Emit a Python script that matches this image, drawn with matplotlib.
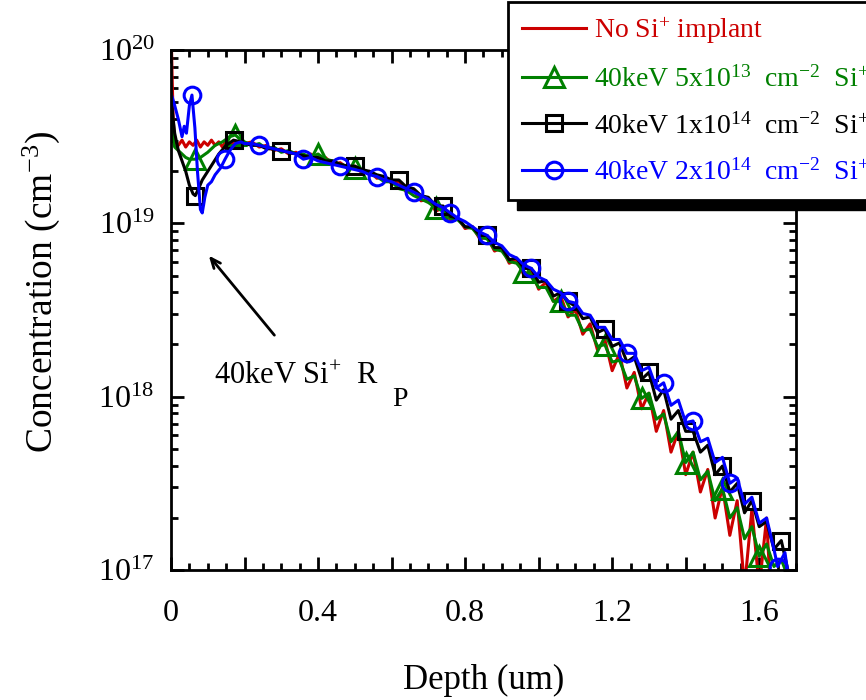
import numpy as np
import matplotlib
matplotlib.use('Agg')
import matplotlib.pyplot as plt
from matplotlib.patches import Rectangle
from matplotlib.ticker import MultipleLocator, LogLocator, NullFormatter

plt.rcParams['font.family'] = 'Liberation Serif'
plt.rcParams['mathtext.fontset'] = 'custom'
plt.rcParams['mathtext.rm'] = 'Liberation Serif'
plt.rcParams['mathtext.it'] = 'Liberation Serif:italic'
plt.rcParams['mathtext.default'] = 'regular'

# depth grid of the tail (um), shared by all profiles
tail_x = [0.20, 0.22, 0.24, 0.26, 0.28, 0.30, 0.32, 0.34, 0.36, 0.38,
          0.40, 0.42, 0.44, 0.46, 0.48, 0.50, 0.52, 0.54, 0.56, 0.58,
          0.60, 0.62, 0.64, 0.66, 0.68, 0.70, 0.72, 0.74, 0.76, 0.78,
          0.80, 0.82, 0.84, 0.86, 0.88, 0.90, 0.92, 0.94, 0.96, 0.98,
          1.00, 1.02, 1.04, 1.06, 1.08, 1.10, 1.12, 1.14, 1.16, 1.18,
          1.20, 1.22, 1.24, 1.26, 1.28, 1.30, 1.32, 1.34, 1.36, 1.38,
          1.40, 1.42, 1.44, 1.46, 1.48, 1.50, 1.52, 1.54, 1.56, 1.58,
          1.60, 1.62, 1.64, 1.66, 1.68]

# log10 of concentration (cm^-3)
# no Si+ implant
red_x = [0.0, 0.003, 0.006, 0.01, 0.02, 0.03, 0.04, 0.05, 0.06, 0.07, 0.08,
         0.09, 0.10, 0.11, 0.12, 0.13, 0.14, 0.15, 0.16, 0.17, 0.18, 0.19] \
    + tail_x[:-3] + [1.63]
red_log = [20.15, 19.85, 19.60, 19.47, 19.45, 19.48, 19.44, 19.47, 19.45,
           19.48, 19.44, 19.47, 19.45, 19.48, 19.45, 19.47, 19.44, 19.48,
           19.45, 19.47, 19.44, 19.47,
           19.46, 19.47, 19.44, 19.45, 19.42, 19.43, 19.40, 19.41, 19.38, 19.40,
           19.37, 19.38, 19.34, 19.35, 19.32, 19.33, 19.29, 19.30, 19.26, 19.27,
           19.23, 19.24, 19.18, 19.19, 19.13, 19.14, 19.07, 19.09, 19.02, 19.03,
           18.97, 18.98, 18.91, 18.92, 18.84, 18.86, 18.77, 18.79, 18.70, 18.73,
           18.62, 18.66, 18.55, 18.58, 18.46, 18.50, 18.36, 18.42, 18.27, 18.33,
           18.15, 18.25, 18.05, 18.14, 17.93, 18.02, 17.80, 17.92, 17.68, 17.80,
           17.55, 17.68, 17.45, 17.58, 17.30, 17.48, 17.20, 17.40, 16.90, 17.35,
           16.90, 17.30, 16.90]

# 40keV 5x10^13
green_x = [0.0, 0.005, 0.01, 0.02, 0.03, 0.04, 0.05, 0.06, 0.065, 0.08, 0.10,
           0.12, 0.14, 0.16, 0.175, 0.19] + tail_x
green_log = [19.70, 19.50, 19.44, 19.42, 19.40, 19.38, 19.37, 19.37, 19.37,
             19.38, 19.41, 19.45, 19.47, 19.50, 19.51, 19.48,
             19.47, 19.45, 19.46, 19.43, 19.44, 19.41, 19.42, 19.40, 19.40, 19.38,
             19.40, 19.37, 19.36, 19.34, 19.33, 19.32, 19.30, 19.29, 19.27, 19.24,
             19.24, 19.20, 19.19, 19.16, 19.14, 19.12, 19.09, 19.07, 19.03, 19.02,
             18.98, 18.97, 18.92, 18.91, 18.85, 18.84, 18.78, 18.77, 18.72, 18.70,
             18.63, 18.63, 18.55, 18.55, 18.47, 18.47, 18.38, 18.39, 18.29, 18.30,
             18.20, 18.21, 18.10, 18.12, 17.99, 18.02, 17.87, 17.90, 17.74, 17.80,
             17.62, 17.68, 17.52, 17.57, 17.40, 17.47, 17.30, 17.36, 17.18, 17.25,
             17.08, 17.15, 17.02, 17.06, 16.95]
green_marks = [0.065, 0.175, 0.40, 0.50, 0.72, 0.96, 1.06, 1.18, 1.28, 1.40,
               1.50, 1.60]

# 40keV 1x10^14
black_x = [0.0, 0.005, 0.01, 0.02, 0.03, 0.04, 0.05, 0.06, 0.066, 0.075,
           0.085, 0.10, 0.115, 0.13, 0.15, 0.17, 0.19] + tail_x
black_log = [19.75, 19.62, 19.52, 19.42, 19.36, 19.30, 19.22, 19.17, 19.16,
             19.20, 19.25, 19.30, 19.35, 19.40, 19.45, 19.48, 19.47,
             19.46, 19.45, 19.45, 19.43, 19.43, 19.42, 19.41, 19.40, 19.39, 19.38,
             19.38, 19.36, 19.36, 19.34, 19.33, 19.33, 19.31, 19.30, 19.28, 19.27,
             19.25, 19.25, 19.21, 19.20, 19.16, 19.15, 19.10, 19.10, 19.04, 19.03,
             18.98, 18.98, 18.93, 18.93, 18.86, 18.86, 18.79, 18.80, 18.74, 18.74,
             18.66, 18.67, 18.58, 18.60, 18.55, 18.52, 18.45, 18.46, 18.37, 18.39,
             18.29, 18.31, 18.20, 18.23, 18.10, 18.14, 17.98, 18.04, 17.87, 17.92,
             17.80, 17.80, 17.68, 17.72, 17.55, 17.60, 17.45, 17.50, 17.33, 17.40,
             17.25, 17.28, 17.12, 17.17, 16.98]
black_marks = [0.066, 0.17, 0.30, 0.50, 0.62, 0.74, 0.86, 0.98, 1.08, 1.18,
               1.30, 1.40, 1.50, 1.58, 1.66]

# 40keV 2x10^14
blue_x = [0.0, 0.01, 0.02, 0.03, 0.036, 0.042, 0.05, 0.057, 0.065, 0.072,
          0.08, 0.085, 0.092, 0.10, 0.11, 0.12, 0.135, 0.147, 0.16, 0.175,
          0.19] + tail_x[:-2] + [1.65, 1.67, 1.68]
blue_log = [19.75, 19.68, 19.60, 19.50, 19.56, 19.52, 19.68, 19.74, 19.55,
            19.30, 19.08, 19.06, 19.15, 19.22, 19.24, 19.28, 19.32, 19.37,
            19.42, 19.46, 19.47,
            19.46, 19.46, 19.45, 19.44, 19.43, 19.42, 19.41, 19.40, 19.37, 19.38,
            19.36, 19.35, 19.34, 19.33, 19.32, 19.31, 19.30, 19.28, 19.27, 19.25,
            19.24, 19.22, 19.20, 19.18, 19.16, 19.14, 19.11, 19.09, 19.06, 19.03,
            19.01, 18.98, 18.95, 18.93, 18.89, 18.87, 18.82, 18.80, 18.76, 18.74,
            18.69, 18.67, 18.62, 18.60, 18.55, 18.54, 18.48, 18.47, 18.40, 18.40,
            18.33, 18.33, 18.25, 18.25, 18.15, 18.17, 18.05, 18.08, 17.95, 17.98,
            17.85, 17.86, 17.74, 17.76, 17.62, 17.65, 17.50, 17.53, 17.38, 17.42,
            17.27, 17.30, 17.12, 17.02, 17.10, 16.95]
blue_marks = [0.057, 0.147, 0.24, 0.36, 0.46, 0.56, 0.66, 0.76, 0.86, 0.98,
              1.08, 1.24, 1.34, 1.42, 1.52, 1.65]

labels = ['No Si$^{+}$ implant',
          '40keV 5x10$^{13}$  cm$^{-2}$  Si$^{+}$',
          '40keV 1x10$^{14}$  cm$^{-2}$  Si$^{+}$',
          '40keV 2x10$^{14}$  cm$^{-2}$  Si$^{+}$']


def mark_idx(xs, marks):
    xs = np.asarray(xs)
    return [int(np.argmin(np.abs(xs - m))) for m in marks]


def main():
    fig = plt.figure(figsize=(8.66, 7.0), dpi=100)
    ax = fig.add_axes([171 / 866, 130 / 700, 625 / 866, 520 / 700])

    lw = 2.2
    h_red, = ax.plot(red_x, 10 ** np.array(red_log), color='#cc0000', lw=lw)
    h_green, = ax.plot(green_x, 10 ** np.array(green_log), color='#008000',
                       lw=lw, marker='^', ms=14, mfc='none', mew=2.2,
                       markevery=mark_idx(green_x, green_marks))
    h_black, = ax.plot(black_x, 10 ** np.array(black_log), color='black',
                       lw=lw, marker='s', ms=11.5, mfc='none', mew=2.2,
                       markevery=mark_idx(black_x, black_marks))
    h_blue, = ax.plot(blue_x, 10 ** np.array(blue_log), color='#0000ff',
                      lw=lw, marker='o', ms=12, mfc='none', mew=2.2,
                      markevery=mark_idx(blue_x, blue_marks))

    ax.set_yscale('log')
    ax.set_xlim(0, 1.70)
    ax.set_ylim(1e17, 1e20)
    ax.xaxis.set_minor_locator(MultipleLocator(0.05))
    ax.set_xticks([0, 0.2, 0.4, 0.6, 0.8, 1.0, 1.2, 1.4, 1.6])
    ax.set_xticklabels(['0', '', '0.4', '', '0.8', '', '1.2', '', '1.6'])
    ax.yaxis.set_minor_locator(LogLocator(base=10, subs=np.arange(2, 10)))
    ax.yaxis.set_minor_formatter(NullFormatter())

    for s in ax.spines.values():
        s.set_linewidth(2.0)
    ax.tick_params(which='both', direction='in', top=True, right=True,
                   width=2.0)
    ax.tick_params(which='major', length=9.5)
    ax.tick_params(which='minor', length=5)
    ax.tick_params(axis='x', labelsize=23, pad=21)
    ax.tick_params(axis='y', labelsize=23, pad=12)

    ax.set_xlabel('Depth (um)', fontsize=25, labelpad=26)
    ax.set_ylabel('Concentration (cm$^{-3}$)', fontsize=27)
    ax.yaxis.set_label_coords(-0.175, 0.535)

    ax.annotate('', xy=(0.098, 6.7e18), xytext=(0.286, 2.2e18),
                arrowprops=dict(arrowstyle='->,head_length=0.7,head_width=0.3',
                                lw=2, color='black'))
    ax.text(0.117, 1.3e18, '40keV Si$^{+}$  R', fontsize=22,
            va='center', ha='left')
    ax.text(0.601, 9.6e17, 'P', fontsize=20, va='center', ha='left')

    leg = fig.legend([h_red, h_green, h_black, h_blue], labels,
                     loc='upper left', bbox_to_anchor=(508 / 866, 1 - 2 / 700),
                     fontsize=20, frameon=True, fancybox=False,
                     edgecolor='black', framealpha=1, borderpad=0.5,
                     handlelength=2.3, handletextpad=0.3, labelspacing=0.72,
                     labelcolor='linecolor', borderaxespad=0)
    leg.get_frame().set_linewidth(2)

    # hard black shadow under the legend box
    fig.canvas.draw()
    bb = leg.get_window_extent().transformed(fig.transFigure.inverted())
    dx, dy = 9 / 866, 10 / 700
    fig.add_artist(Rectangle((bb.x0 + dx, bb.y0 - dy), bb.width, bb.height,
                             transform=fig.transFigure, color='black',
                             zorder=4))

    fig.savefig('out.png', dpi=100)


if __name__ == '__main__':
    main()
